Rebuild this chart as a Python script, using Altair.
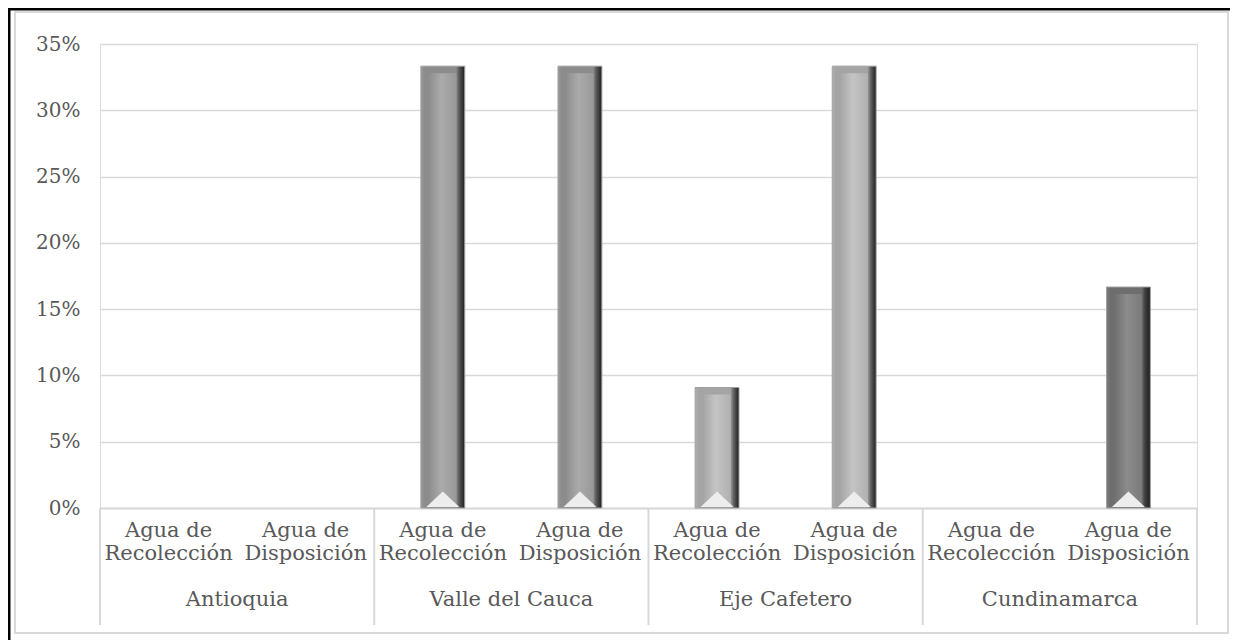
import altair as alt
import pandas as pd

regiones = ["Antioquia", "Valle del Cauca", "Eje Cafetero", "Cundinamarca"]
tipos = ["Agua de Recolección", "Agua de Disposición"]
recoleccion = [0.0, 0.3333, 0.0909, 0.0]
disposicion = [0.0, 0.3333, 0.3333, 0.1667]
y_ticks = [0, 0.05, 0.10, 0.15, 0.20, 0.25, 0.30, 0.35]

rows = []
for i, r in enumerate(regiones):
    for t, v in zip(tipos, [recoleccion[i], disposicion[i]]):
        rows.append({"region": r, "tipo": t, "key": f"{r}|{t}", "valor": v, "cero": 0.0})
df = pd.DataFrame(rows)
keys = list(df["key"])

W, H = 1097, 464
FONT = "DejaVu Serif"
GRAY = "#595959"
LINE = "#d9d9d9"
FS = 21

xscale = alt.Scale(domain=keys, paddingInner=0, paddingOuter=0)
ybase = alt.Y("valor:Q", scale=alt.Scale(domain=[0, 0.35], nice=False),
              axis=alt.Axis(format=".0%", values=y_ticks, grid=True, gridColor=LINE, gridWidth=1.5,
                            domain=False, ticks=False, labelFont=FONT, labelFontSize=20,
                            labelColor=GRAY, labelPadding=20, title=None))
xbase = alt.X("key:N", scale=xscale, sort=keys,
              axis=alt.Axis(title=None, ticks=False, domainColor=LINE, domainWidth=2,
                            labelAngle=0, labelFont=FONT, labelFontSize=FS, labelColor=GRAY,
                            labelLineHeight=23, labelPadding=11, labelBaseline="top",
                            labelExpr="[substring(split(datum.label,'|')[1],0,7), substring(split(datum.label,'|')[1],8)]"))
xplain = alt.X("key:N", scale=xscale, sort=keys)

base = alt.Chart(df)


def outer_grad(edge, side, dark):
    return alt.LinearGradient(
        gradient="linear", x1=0, x2=1, y1=0, y2=0,
        stops=[alt.GradientStop(color=edge, offset=0),
               alt.GradientStop(color=side, offset=0.08),
               alt.GradientStop(color=side, offset=0.8),
               alt.GradientStop(color=dark, offset=0.88),
               alt.GradientStop(color="#1e1e1e", offset=1)])


def inner_grad(a, b, c):
    return alt.LinearGradient(
        gradient="linear", x1=0, x2=1, y1=0, y2=0,
        stops=[alt.GradientStop(color=a, offset=0),
               alt.GradientStop(color=b, offset=0.45),
               alt.GradientStop(color=c, offset=1)])


tones = {
    "Antioquia": (("#9a9a9a", "#8c8c8c", "#555555"), ("#8e8e8e", "#ababab", "#989898")),
    "Valle del Cauca": (("#9a9a9a", "#8c8c8c", "#555555"), ("#8e8e8e", "#ababab", "#989898")),
    "Eje Cafetero": (("#b0b0b0", "#a4a4a4", "#606060"), ("#a6a6a6", "#c4c4c4", "#b0b0b0")),
    "Cundinamarca": (("#7e7e7e", "#6e6e6e", "#3e3e3e"), ("#707070", "#8c8c8c", "#7a7a7a")),
}

bars = []
for r in regiones:
    o, i_ = tones[r]
    sub = base.transform_filter(alt.datum.region == r).transform_filter(alt.datum.valor > 0)
    bars.append(sub.mark_bar(width=alt.RelativeBandSize(0.32), color=outer_grad(*o),
                             stroke="#a0a0a0", strokeWidth=1).encode(x=xbase, y=ybase))
    bars.append(sub.mark_bar(width=alt.RelativeBandSize(0.2), color=inner_grad(*i_),
                             yOffset=7, y2Offset=-2).encode(x=xplain, y=alt.Y("valor:Q"), y2=alt.Y2("cero")))

tri = base.transform_filter(alt.datum.valor > 0).mark_point(
    shape="M-0.75,1L0.75,1L0,0.3Z", filled=True, color="#ededed", opacity=1, size=1936, yOffset=-23
).encode(x=xplain, y=alt.Y("cero:Q"))

starts = df.groupby("region", sort=False).first().reset_index()
sep_left = alt.Chart(starts).mark_rule(color=LINE, strokeWidth=2).encode(
    x=alt.X("key:N", scale=xscale, sort=keys, bandPosition=0),
    y=alt.value(H), y2=alt.value(H + 117))
sep_end = alt.Chart(df.tail(1)).mark_rule(color=LINE, strokeWidth=2).encode(
    x=alt.X("key:N", scale=xscale, sort=keys, bandPosition=1),
    y=alt.value(H), y2=alt.value(H + 117))

seconds = df.groupby("region", sort=False).last().reset_index()
reg_text = alt.Chart(seconds).mark_text(font=FONT, fontSize=FS, color=GRAY, baseline="middle").encode(
    x=alt.X("key:N", scale=xscale, sort=keys, bandPosition=0),
    y=alt.value(H + 92), text="region:N")

one = pd.DataFrame({"a": [0]})
frame = alt.Chart(one).mark_rect(fill=None, stroke=LINE, strokeWidth=2).encode(
    x=alt.value(-85), x2=alt.value(1128), y=alt.value(-32), y2=alt.value(589))
top_line = alt.Chart(one).mark_rule(color="black", strokeWidth=3).encode(
    x=alt.value(-92), x2=alt.value(1140), y=alt.value(-35))
left_line = alt.Chart(one).mark_rule(color="black", strokeWidth=3).encode(
    x=alt.value(-91), y=alt.value(-36), y2=alt.value(600))

chart = alt.layer(frame, *bars, tri, sep_left, sep_end, reg_text, top_line, left_line).properties(
    width=W, height=H,
    autosize=alt.AutoSizeParams(type="none"),
    padding={"left": 92, "top": 36, "right": 33, "bottom": 132},
).configure_view(stroke=None).configure(background="white")

chart.save("out.html", embed_options={"renderer": "svg", "actions": False})
